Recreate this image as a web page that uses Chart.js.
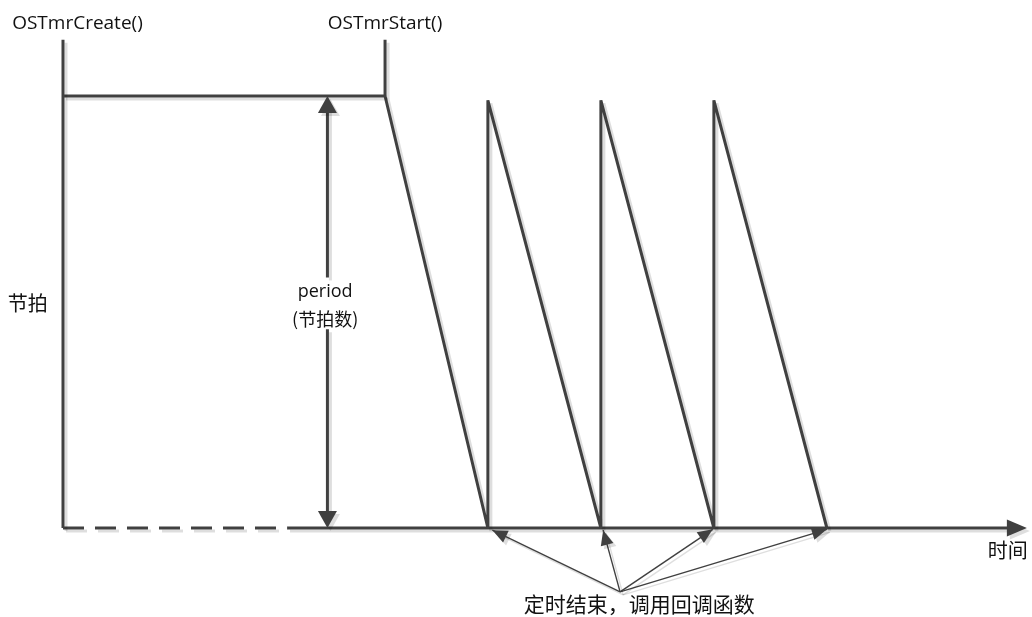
<!DOCTYPE html>
<html>
<head>
<meta charset="utf-8">
<script src="https://cdn.jsdelivr.net/npm/chart.js@4.4.1/dist/chart.umd.min.js"></script>
<style>
  html, body { margin: 0; padding: 0; background: #ffffff; }
  #timerChart { display: block; }
</style>
</head>
<body>
<canvas id="timerChart" width="1032" height="617"></canvas>
<script>
// time in arbitrary units (100 units = one period), height in ticks
const apiLabels = ['OSTmrCreate()', 'OSTmrStart()'];
const apiTimes = [0, 285];
const markerTop = 113;
const period = 100;
const reloadPeak = 99;
const expiryTimes = [376, 476, 576, 676];
const dashEnd = 199;
const timeAxisEnd = 853;
const periodArrowT = 234;
const periodGap = [58, 46];
const calloutOrigin = [493, -14.8];
const calloutTipTimes = [380, 478, 575, 676];
const calloutTipTicks = [-0.5, -0.5, -0.3, -0.3];

const ink = '#404040';
const shadow = 'rgba(0,0,0,0.13)';
const latin = '"Open Sans", "Noto Sans", sans-serif';
const cjk = '"Noto Sans CJK SC", sans-serif';

// sawtooth: start of countdown, then expire / reload for each period
const sawtooth = [{ x: apiTimes[1], y: period }];
expiryTimes.forEach((t, i) => {
    sawtooth.push({ x: t, y: 0 });
    if (i < expiryTimes.length - 1) sawtooth.push({ x: t, y: reloadPeak });
});

const line = (data, extra = {}) => Object.assign({
    data,
    showLine: true,
    borderColor: ink,
    borderWidth: 3,
    pointRadius: 0,
    fill: false,
    tension: 0,
    clip: false,
}, extra);

const datasets = [
    line([{ x: apiTimes[0], y: markerTop }, { x: apiTimes[0], y: 0 }]),
    line([{ x: apiTimes[0], y: period }, { x: apiTimes[1], y: period }]),
    line([{ x: apiTimes[1], y: markerTop }, { x: apiTimes[1], y: period }]),
    line(sawtooth, { borderJoinStyle: 'bevel' }),
    line([{ x: apiTimes[0], y: 0 }, { x: dashEnd, y: 0 }], { borderDash: [21, 11] }),
    line([{ x: dashEnd, y: 0 }, { x: timeAxisEnd - 12, y: 0 }]),
    line([{ x: periodArrowT, y: period - 3 }, { x: periodArrowT, y: periodGap[0] }]),
    line([{ x: periodArrowT, y: periodGap[1] }, { x: periodArrowT, y: 3 }]),
];
calloutTipTimes.forEach((t, i) => {
    datasets.push(line([
        { x: calloutOrigin[0], y: calloutOrigin[1] },
        { x: t, y: calloutTipTicks[i] },
    ], { borderWidth: 1.4 }));
});

// arrowheads: tip + a point the arrow comes from
const arrows = [
    { tip: [timeAxisEnd, 0], from: [dashEnd, 0], len: 20, half: 8.5 },
    { tip: [periodArrowT, period], from: [periodArrowT, 0], len: 17, half: 9.5 },
    { tip: [periodArrowT, 0], from: [periodArrowT, period], len: 17, half: 9.5 },
];
calloutTipTimes.forEach((t, i) => {
    arrows.push({ tip: [t, calloutTipTicks[i]], from: calloutOrigin, len: 15, half: 6.5 });
});

const texts = [
    { text: apiLabels[0], x: -45, y: 116.7, align: 'left', font: '19px ' + latin },
    { text: apiLabels[1], x: apiTimes[1], y: 116.7, align: 'center', font: '19px ' + latin },
    { text: '节拍', x: -49, y: 52.1, align: 'left', font: '20px ' + cjk },
    { text: 'period', x: 232, y: 54.6, align: 'center', font: '18px ' + latin },
    { text: '(节拍数)', x: 232, y: 48.4, align: 'center', font: '18px ' + cjk },
    { text: '时间', x: 836, y: -5.1, align: 'center', font: '20px ' + cjk },
    { text: '定时结束，调用回调函数', x: 510, y: -17.6, align: 'center', font: '21px ' + cjk },
];

const setShadow = (ctx, on) => {
    ctx.shadowColor = on ? shadow : 'transparent';
    ctx.shadowOffsetX = on ? 3 : 0;
    ctx.shadowOffsetY = on ? 3 : 0;
    ctx.shadowBlur = 0;
};

const diagramPlugin = {
    id: 'diagram',
    beforeDraw(chart) {
        const ctx = chart.ctx;
        ctx.save();
        ctx.fillStyle = '#ffffff';
        ctx.fillRect(0, 0, chart.width, chart.height);
        ctx.restore();
    },
    beforeDatasetsDraw(chart) {
        chart.ctx.save();
        setShadow(chart.ctx, true);
    },
    afterDatasetsDraw(chart) {
        const ctx = chart.ctx;
        const xs = chart.scales.x;
        const ys = chart.scales.y;
        ctx.fillStyle = ink;
        arrows.forEach((a) => {
            const tx = xs.getPixelForValue(a.tip[0]);
            const ty = ys.getPixelForValue(a.tip[1]);
            const fx = xs.getPixelForValue(a.from[0]);
            const fy = ys.getPixelForValue(a.from[1]);
            const ang = Math.atan2(ty - fy, tx - fx);
            const bx = tx - a.len * Math.cos(ang);
            const by = ty - a.len * Math.sin(ang);
            ctx.beginPath();
            ctx.moveTo(tx, ty);
            ctx.lineTo(bx + a.half * Math.sin(ang), by - a.half * Math.cos(ang));
            ctx.lineTo(bx - a.half * Math.sin(ang), by + a.half * Math.cos(ang));
            ctx.closePath();
            ctx.fill();
        });
        ctx.restore();

        ctx.save();
        ctx.fillStyle = '#111111';
        ctx.textBaseline = 'middle';
        texts.forEach((t) => {
            ctx.font = t.font;
            ctx.textAlign = t.align;
            ctx.fillText(t.text, xs.getPixelForValue(t.x), ys.getPixelForValue(t.y));
        });
        ctx.restore();
    },
};

new Chart('timerChart', {
    type: 'scatter',
    data: { datasets },
    options: {
        responsive: false,
        animation: false,
        events: [],
        layout: { padding: 0 },
        plugins: { legend: { display: false }, tooltip: { enabled: false } },
        scales: {
            x: { type: 'linear', min: -55.75, max: 857.52, display: false },
            y: { type: 'linear', min: -20.602, max: 122.222, display: false },
        },
    },
    plugins: [diagramPlugin],
});
</script>
</body>
</html>
